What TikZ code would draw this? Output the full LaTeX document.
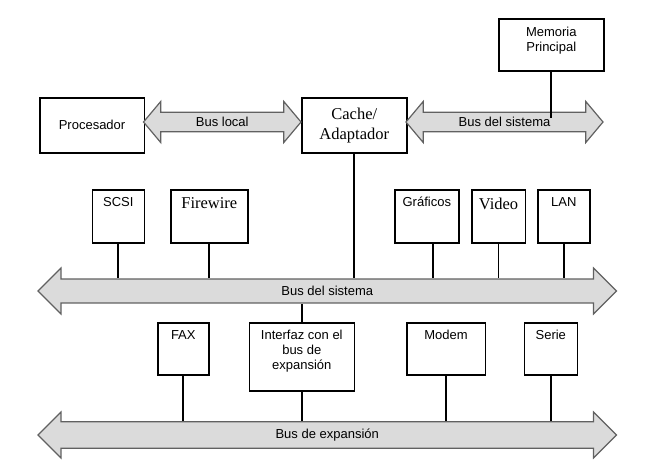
\documentclass[tikz,border=0pt]{standalone}
\usepackage{fontspec}
\setmainfont{Liberation Serif}
\newfontfamily\sansf{Liberation Sans}
\usetikzlibrary{shapes.arrows}
\definecolor{busfill}{gray}{0.86}
\definecolor{busline}{gray}{0.38}
\newcommand*{\sanstxt}{\sansf\fontsize{13}{15}\selectfont}
\newcommand*{\serftxt}{\fontsize{16.5}{20}\selectfont}

\begin{document}
\begin{tikzpicture}[x=1pt,y=-1pt,
    caja/.style={draw,line width=1.6pt,anchor=north west,inner sep=0pt,align=center},
    arriba/.style={anchor=north,inner sep=0pt,yshift=-8pt,align=center,font=\sanstxt},
    bus/.style={double arrow,draw=busline,fill=busfill,line width=1.2pt,inner sep=0pt,font=\sanstxt},
    buscorto/.style={bus,minimum width=41pt,double arrow head extend=6pt,double arrow tip angle=100},
    buslargo/.style={bus,minimum width=46pt,double arrow head extend=5pt,minimum height=578.5pt},
    linea/.style={line width=1.7pt}]
    \useasboundingbox (0,0) rectangle (645,474);
    % nivel superior
    \node[caja,minimum width=104.5pt,minimum height=55pt,font=\sanstxt] (proc) at (39,97) {Procesador};
    \node[caja,minimum width=105pt,minimum height=55pt,font=\serftxt] (cache) at (301,97) {Cache/\\Adaptador};
    \node[caja,minimum width=105pt,minimum height=52pt,label={[arriba,yshift=-1pt]north:Memoria\\Principal}] (mem) at (498,18) {};
    \node[buscorto,minimum height=157.5pt] (buslocal) at (222.25,122) {Bus local};
    \node[buscorto,minimum height=197pt] (bussup) at (504.5,122) {Bus del sistema};
    % buses principales
    \node[buslargo] (bussis) at (327.25,291) {Bus del sistema};
    \node[buslargo] (busexp) at (327.25,435) {Bus de expansi\'on};
    % tarjetas del bus del sistema
    \node[caja,minimum width=52pt,minimum height=53pt,label={[arriba]north:SCSI}] (scsi) at (91.5,189) {};
    \node[caja,minimum width=77pt,minimum height=53pt,label={[arriba,font=\serftxt,yshift=-0.5pt]north:Firewire}] (fire) at (170,189) {};
    \node[caja,minimum width=64pt,minimum height=53pt,label={[arriba]north:Gr\'aficos}] (graf) at (394,189) {};
    \node[caja,minimum width=53.5pt,minimum height=53pt,label={[arriba,font=\serftxt,yshift=-0.5pt]north:Video}] (video) at (471,189) {};
    \node[caja,minimum width=52pt,minimum height=53pt,label={[arriba]north:LAN}] (lan) at (537,189) {};
    % tarjetas del bus de expansion
    \node[caja,minimum width=51pt,minimum height=52pt,label={[arriba]north:FAX}] (fax) at (157,322) {};
    \node[caja,minimum width=105pt,minimum height=68pt,label={[arriba]north:Interfaz con el\\bus de\\expansi\'on}] (inter) at (248.5,322) {};
    \node[caja,minimum width=78.5pt,minimum height=52pt,label={[arriba]north:Modem}] (modem) at (406,322) {};
    \node[caja,minimum width=53pt,minimum height=52pt,label={[arriba]north:Serie}] (serie) at (523.5,322) {};
    % conexiones
    \draw[linea] (mem) -- ([yshift=4pt]mem.south |- bussup.center);
    \draw[linea] (cache) -- (cache |- bussis.north);
    \draw[linea] (scsi) -- (scsi |- bussis.north);
    \draw[linea] (fire) -- (fire |- bussis.north);
    \draw[linea] ([xshift=6pt]graf.south) -- ([xshift=6pt]graf.south |- bussis.north);
    \draw[linea] (video) -- (video |- bussis.north);
    \draw[linea] (lan) -- (lan |- bussis.north);
    \draw[linea] (inter) -- (inter |- bussis.south);
    \draw[linea] (fax) -- (fax |- busexp.north);
    \draw[linea] (inter) -- (inter |- busexp.north);
    \draw[linea] (modem) -- (modem |- busexp.north);
    \draw[linea] (serie) -- (serie |- busexp.north);
\end{tikzpicture}
\end{document}
